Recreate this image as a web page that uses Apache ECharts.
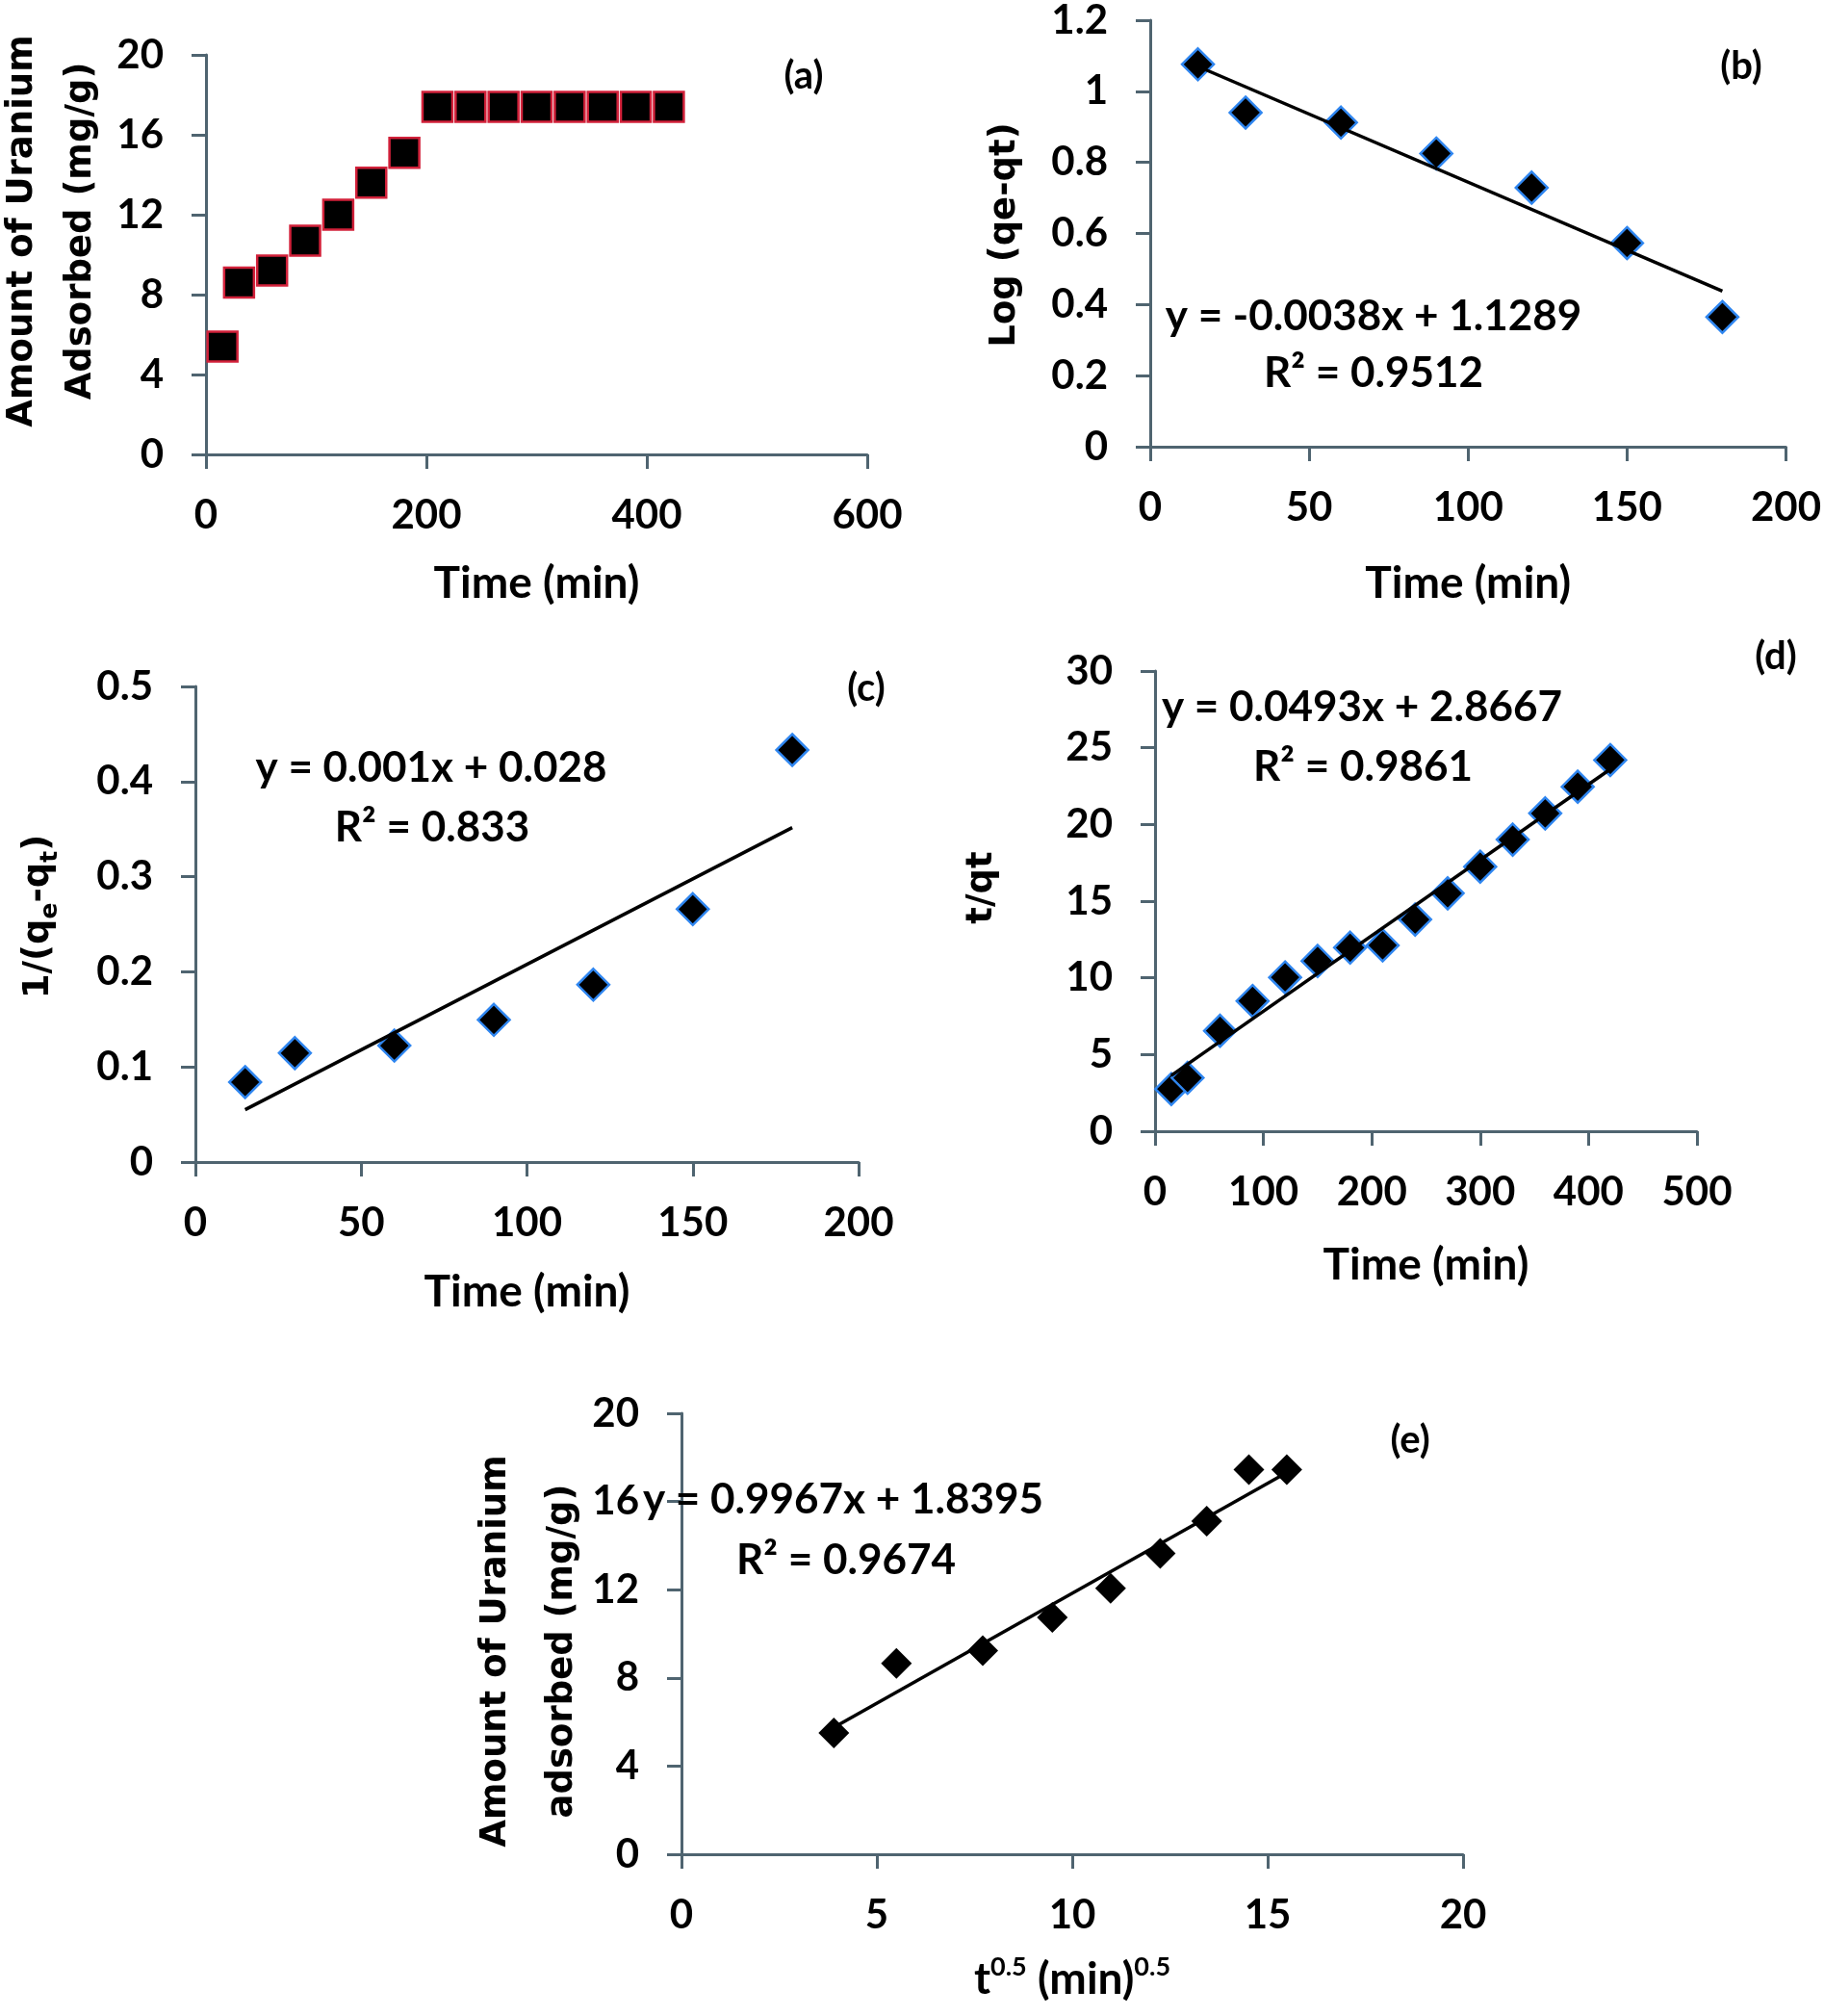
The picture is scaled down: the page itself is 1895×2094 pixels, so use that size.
<!DOCTYPE html>
<html>
<head>
<meta charset="utf-8">
<title>Uranium adsorption kinetics</title>
<script src="https://cdn.jsdelivr.net/npm/echarts@6.0.0/dist/echarts.min.js"></script>
<style>
  html, body { margin: 0; padding: 0; background: #fff; }
  #chart { width: 1895px; height: 2094px; }
</style>
</head>
<body>
<div id="chart"></div>
<script>
// (a) amount adsorbed vs time
var timeA = [15, 30, 60, 90, 120, 150, 180, 210, 240, 270, 300, 330, 360, 390, 420];
var uptakeA = [5.4, 8.6, 9.2, 10.7, 12.0, 13.6, 15.1, 17.4, 17.4, 17.4, 17.4, 17.4, 17.4, 17.4, 17.4];
// (b) pseudo-first order
var timeB = [15, 30, 60, 90, 120, 150, 180];
var logB = [1.076, 0.94, 0.912, 0.825, 0.729, 0.573, 0.365];
// (c) second order
var timeC = [15, 30, 60, 90, 120, 150, 180];
var invC = [0.084, 0.1145, 0.1224, 0.1495, 0.1864, 0.2659, 0.4332];
// (d) pseudo-second order
var timeD = [15, 30, 60, 90, 120, 150, 180, 210, 240, 270, 300, 330, 360, 390, 420];
var tqD = [2.75, 3.48, 6.55, 8.49, 10.03, 11.10, 11.97, 12.12, 13.80, 15.51, 17.25, 19.01, 20.72, 22.46, 24.2];
// (e) intra-particle diffusion
var sqrtE = [3.90, 5.50, 7.71, 9.49, 10.98, 12.25, 13.44, 14.52, 15.49];
var uptakeE = [5.50, 8.66, 9.24, 10.74, 12.06, 13.65, 15.11, 17.44, 17.44];

// equation labels
var eqB = ['y = -0.0038x + 1.1289', 'R\u00b2 = 0.9512'];
var eqC = ['y = 0.001x + 0.028', 'R\u00b2 = 0.833'];
var eqD = ['y = 0.0493x + 2.8667', 'R\u00b2 = 0.9861'];
var eqE = ['y = 0.9967x + 1.8395', 'R\u00b2 = 0.9674'];

var FONT = 'Lato, "Open Sans", sans-serif';
var TFONT = '"DejaVu Sans", Verdana, sans-serif';
var AXC = '#4f6470';

function pairs(xs, ys) {
  var out = [];
  for (var i = 0; i < xs.length; i++) out.push([xs[i], ys[i]]);
  return out;
}

// least squares trendline between first and last x
function fitLine(xs, ys) {
  var n = xs.length, mx = 0, my = 0, sxy = 0, sxx = 0;
  for (var i = 0; i < n; i++) { mx += xs[i]; my += ys[i]; }
  mx /= n; my /= n;
  for (var j = 0; j < n; j++) {
    sxy += (xs[j] - mx) * (ys[j] - my);
    sxx += (xs[j] - mx) * (xs[j] - mx);
  }
  var k = sxy / sxx, b = my - k * mx;
  var x0 = Math.min.apply(null, xs), x1 = Math.max.apply(null, xs);
  return [[x0, k * x0 + b], [x1, k * x1 + b]];
}

function axisBase(idx, min, max, step) {
  return {
    type: 'value',
    gridIndex: idx,
    min: min, max: max, interval: step,
    splitLine: { show: false },
    axisLine: { show: true, onZero: false, lineStyle: { color: AXC, width: 3 } },
    axisTick: { show: true, length: 15, lineStyle: { color: AXC, width: 3 } },
    axisLabel: { color: '#000', fontFamily: FONT, fontWeight: 'bold', fontSize: 42, margin: 44 }
  };
}

function xAx(idx, min, max, step, name, gap) {
  var a = axisBase(idx, min, max, step);
  a.name = name;
  a.nameLocation = 'middle';
  a.nameGap = gap;
  a.nameTextStyle = { color: '#000', fontFamily: FONT, fontWeight: 'bold', fontSize: 46, lineHeight: 50 };
  a.axisLabel.margin = 42;
  return a;
}

function yAx(idx, min, max, step) {
  return axisBase(idx, min, max, step);
}

function dots(idx, data, symbol, size, border) {
  return {
    type: 'scatter',
    xAxisIndex: idx, yAxisIndex: idx,
    symbol: symbol, symbolSize: size,
    itemStyle: { color: '#000', borderColor: border || '#000', borderWidth: border ? 2.5 : 0, opacity: 1 },
    data: data,
    z: 3
  };
}

function trend(idx, xs, ys) {
  return {
    type: 'line',
    xAxisIndex: idx, yAxisIndex: idx,
    showSymbol: false, symbol: 'none',
    lineStyle: { color: '#000', width: 3.5 },
    data: fitLine(xs, ys),
    z: 5
  };
}

function txt(x, y, text, size) {
  return {
    type: 'text', x: x, y: y, z: 10,
    style: { text: text, fontFamily: FONT, fontWeight: 'bold', fontSize: size, fill: '#000', align: 'center', verticalAlign: 'middle' }
  };
}

function vtitle(x, y, text, lh) {
  return {
    type: 'text', x: x, y: y, rotation: Math.PI / 2, z: 10,
    style: { text: text, fontFamily: TFONT, fontWeight: 'bold', fontSize: 37, lineHeight: lh || 45, fill: '#000', align: 'center', verticalAlign: 'middle' }
  };
}

var myChart = echarts.init(document.getElementById('chart'));

var option = {
  animation: false,
  backgroundColor: '#fff',
  grid: [
    { left: 214, top: 57, width: 687, height: 415 },
    { left: 1195, top: 21, width: 663, height: 443 },
    { left: 203, top: 713, width: 689, height: 494 },
    { left: 1200, top: 697, width: 563, height: 478 },
    { left: 708, top: 1468, width: 812, height: 458 }
  ],
  xAxis: [
    xAx(0, 0, 600, 200, 'Time (min)', 109),
    xAx(1, 0, 200, 50, 'Time (min)', 117),
    xAx(2, 0, 200, 50, 'Time (min)', 110),
    xAx(3, 0, 500, 100, 'Time (min)', 114),
    (function () {
      var a = xAx(4, 0, 20, 5, '{m|t}{p|0.5}{m| (min)}{p|0.5}', 104);
      a.nameTextStyle.rich = {
        m: { fontFamily: FONT, fontWeight: 'bold', fontSize: 46, lineHeight: 52, color: '#000' },
        p: { fontFamily: FONT, fontWeight: 'bold', fontSize: 27, color: '#000', verticalAlign: 'top' }
      };
      return a;
    })()
  ],
  yAxis: [
    yAx(0, 0, 20, 4),
    yAx(1, 0, 1.2, 0.2),
    yAx(2, 0, 0.5, 0.1),
    yAx(3, 0, 30, 5),
    yAx(4, 0, 20, 4)
  ],
  series: [
    dots(0, pairs(timeA, uptakeA), 'rect', 31, '#d2213a'),
    dots(1, pairs(timeB, logB), 'diamond', 33, '#2f86f0'),
    trend(1, timeB, logB),
    dots(2, pairs(timeC, invC), 'diamond', 33, '#2f86f0'),
    trend(2, timeC, invC),
    dots(3, pairs(timeD, tqD), 'diamond', 33, '#2f86f0'),
    trend(3, timeD, tqD),
    dots(4, pairs(sqrtE, uptakeE), 'diamond', 32),
    trend(4, sqrtE, uptakeE)
  ],
  graphic: [
    // panel letters
    txt(835, 79, '(a)', 40),
    txt(1809, 69, '(b)', 40),
    txt(900, 715, '(c)', 40),
    txt(1845, 682, '(d)', 40),
    txt(1465, 1496, '(e)', 40),
    // fitted equations
    txt(1427, 329, eqB[0], 44),
    txt(1427, 388, eqB[1], 44),
    txt(448, 798, eqC[0], 44),
    txt(449, 860, eqC[1], 44),
    txt(1415, 735, eqD[0], 44),
    txt(1416, 797, eqD[1], 44),
    txt(876, 1558, eqE[0], 44),
    txt(879, 1621, eqE[1], 44),
    // y axis titles
    vtitle(54, 240, 'Amount of Uranium\nAdsorbed (mg/g)', 61),
    vtitle(1044, 244, 'Log (qe-qt)'),
    {
      type: 'text', x: 40, y: 952, rotation: Math.PI / 2, z: 10,
      style: {
        text: '{m|1/(q}{s|e}{m|-q}{s|t}{m|)}',
        align: 'center', verticalAlign: 'middle',
        rich: {
          m: { fontFamily: TFONT, fontWeight: 'bold', fontSize: 37, lineHeight: 50, fill: '#000' },
          s: { fontFamily: TFONT, fontWeight: 'bold', fontSize: 25, fill: '#000', verticalAlign: 'bottom' }
        }
      }
    },
    vtitle(1020, 922, 't/qt'),
    vtitle(550, 1715, 'Amount of Uranium\nadsorbed (mg/g)', 69)
  ]
};

myChart.setOption(option);
window.addEventListener('resize', function () {
  myChart.resize();
});
</script>
</body>
</html>
